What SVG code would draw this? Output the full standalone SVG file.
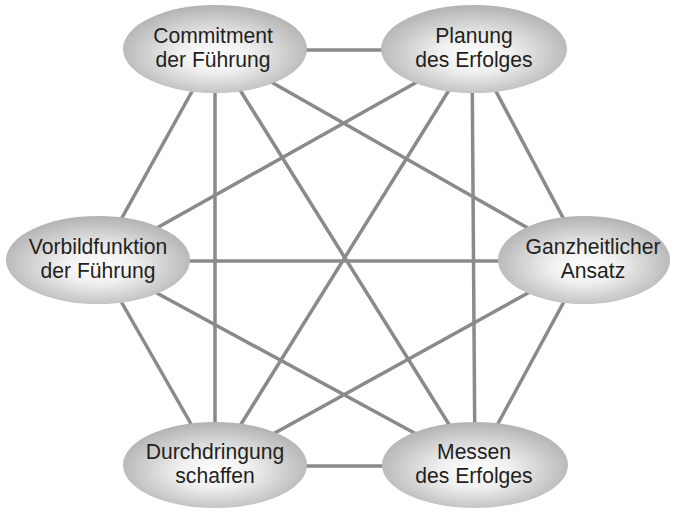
<svg xmlns="http://www.w3.org/2000/svg" width="674" height="512" viewBox="0 0 674 512">
<defs>
<radialGradient id="g" cx="50%" cy="55%" r="55%" fx="50%" fy="58%">
<stop offset="0" stop-color="#ffffff"/>
<stop offset="0.35" stop-color="#f0f0f0"/>
<stop offset="1" stop-color="#b2b2b2"/>
</radialGradient>
<style>
.e{fill:url(#g);stroke:none}
.t{font-family:"Liberation Sans",Arial,sans-serif;font-size:22px;fill:#231f20;text-anchor:middle}
.c line{stroke:#8a8a8c;stroke-width:3.5}
</style>
</defs>
<rect width="674" height="512" fill="#ffffff"/>
<g id="connectors" class="c">
<line x1="215" y1="50" x2="474" y2="50"/>
<line x1="215" y1="50" x2="98" y2="261"/>
<line x1="215" y1="50" x2="586" y2="261"/>
<line x1="215" y1="50" x2="215" y2="466"/>
<line x1="215" y1="50" x2="475" y2="466"/>
<line x1="474" y1="50" x2="98" y2="261"/>
<line x1="474" y1="50" x2="586" y2="261"/>
<line x1="474" y1="50" x2="215" y2="466"/>
<line x1="472" y1="50" x2="475" y2="466"/>
<line x1="98" y1="261" x2="586" y2="261"/>
<line x1="98" y1="261" x2="215" y2="466"/>
<line x1="98" y1="261" x2="475" y2="466"/>
<line x1="586" y1="261" x2="215" y2="466"/>
<line x1="586" y1="261" x2="475" y2="466"/>
<line x1="215" y1="466" x2="475" y2="466"/>
</g>
<g id="commitment">
<ellipse class="e" cx="215" cy="49" rx="92" ry="44"/>
<g transform="translate(213,0) scale(0.96,1)"><text class="t" x="0" y="43">Commitment</text><text class="t" x="0" y="67">der Führung</text></g>
</g>
<g id="planung">
<ellipse class="e" cx="474" cy="49" rx="93" ry="44"/>
<g transform="translate(474,0) scale(0.96,1)"><text class="t" x="0" y="43">Planung</text><text class="t" x="0" y="67">des Erfolges</text></g>
</g>
<g id="vorbild">
<ellipse class="e" cx="98" cy="260" rx="92" ry="44"/>
<g transform="translate(98,0) scale(0.96,1)"><text class="t" x="0" y="254">Vorbildfunktion</text><text class="t" x="0" y="278">der Führung</text></g>
</g>
<g id="ganzheitlich">
<ellipse class="e" cx="584" cy="260" rx="86" ry="44"/>
<g transform="translate(593,0) scale(0.96,1)"><text class="t" x="0" y="254">Ganzheitlicher</text><text class="t" x="0" y="278">Ansatz</text></g>
</g>
<g id="durchdringung">
<ellipse class="e" cx="215" cy="465" rx="92" ry="43"/>
<g transform="translate(215,0) scale(0.96,1)"><text class="t" x="0" y="459">Durchdringung</text><text class="t" x="0" y="483">schaffen</text></g>
</g>
<g id="messen">
<ellipse class="e" cx="475" cy="465" rx="93" ry="43"/>
<g transform="translate(474,0) scale(0.96,1)"><text class="t" x="0" y="459">Messen</text><text class="t" x="0" y="483">des Erfolges</text></g>
</g>
</svg>
